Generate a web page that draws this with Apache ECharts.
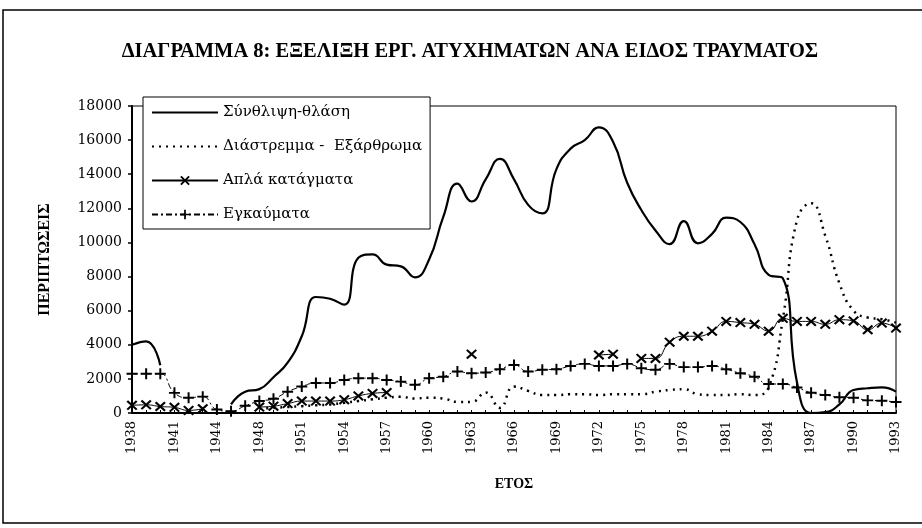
<!DOCTYPE html>
<html>
<head>
<meta charset="utf-8">
<title>ΔΙΑΓΡΑΜΜΑ 8</title>
<script src="https://cdn.jsdelivr.net/npm/echarts@6/dist/echarts.min.js"></script>
<style>
    html, body { margin: 0; padding: 0; background: #fff; }
    #chart { width: 922px; height: 528px; }
</style>
</head>
<body>
<div id="chart"></div>
<script>
'use strict';

// έτη (λείπει το 1945)
const years = ['1938', '1939', '1940', '1941', '1942', '1943', '1944', '1946', '1947',
    '1948', '1949', '1950', '1951', '1952', '1953', '1954', '1955', '1956', '1957',
    '1958', '1959', '1960', '1961', '1962', '1963', '1964', '1965', '1966', '1967',
    '1968', '1969', '1970', '1971', '1972', '1973', '1974', '1975', '1976', '1977',
    '1978', '1979', '1980', '1981', '1982', '1983', '1984', '1985', '1986', '1987',
    '1988', '1989', '1990', '1991', '1992', '1993'];

const seriesNames = ['Σύνθλιψη-θλάση', 'Διάστρεμμα -  Εξάρθρωμα', 'Απλά κατάγματα', 'Εγκαύματα'];

// Σύνθλιψη-θλάση
const crushData = [4000, 4200, 2800, null, null, null, null, 500, 1250,
    1400, 2100, 2950, 4500, 6800, 6700, 6350, 9100, 9300, 8700,
    8600, 7950, 9000, 11500, 13450, 12400, 13700, 14900, 13700, 12200,
    11700, 14300, 15500, 16000, 16750, 15900, 13500, 11900, 10700, 9900,
    11250, 9950, 10500, 11450, 11200, 9900, 8100, 7900, 1800, 0,
    50, 500, 1350, 1450, 1500, 1250];

// Διάστρεμμα - Εξάρθρωμα
const sprainData = [null, null, null, null, null, null, null, null, null,
    250, 300, 350, 400, 450, 500, 600, 700, 800, 900,
    950, 850, 900, 850, 650, 650, 1200, 300, 1550, 1300,
    1050, 1050, 1100, 1100, 1050, 1100, 1100, 1100, 1250, 1350,
    1400, 1100, 1050, 1050, 1100, 1050, 1500, 5500, 11300, 12300,
    10400, 7600, 6000, 5600, 5500, 5300];

// Απλά κατάγματα
const fractureData = [450, 480, 380, 330, 150, 250, null, null, null,
    350, 400, 550, 700, 700, 700, 780, 1000, 1150, 1200,
    null, null, null, null, null, 3450, null, null, null, null,
    null, null, null, null, 3400, 3450, null, 3200, 3200, 4150,
    4500, 4500, 4800, 5370, 5300, 5200, 4800, 5550, 5370, 5370,
    5200, 5470, 5400, 4880, 5270, 4980];

// Εγκαύματα
const burnData = [2300, 2300, 2300, 1180, 900, 960, 200, 100, 420,
    700, 830, 1250, 1550, 1760, 1760, 1940, 2040, 2040, 1940,
    1840, 1650, 2040, 2130, 2430, 2330, 2370, 2570, 2820, 2430,
    2530, 2570, 2760, 2880, 2760, 2760, 2880, 2630, 2530, 2880,
    2690, 2690, 2760, 2570, 2330, 2130, 1700, 1700, 1490, 1190,
    1060, 920, 900, 740, 720, 640];

const yTicks = { min: 0, max: 18000, interval: 2000 };

const SERIF = 'Liberation Serif';
const WIDE = 'DejaVu Serif';

// σύμβολα x και +
const crossX = 'path://M0,1.4L1.4,0L10,8.6L8.6,10ZM8.6,0L10,1.4L1.4,10L0,8.6Z';
const plus = 'path://M4.1,0H5.9V4.1H10V5.9H5.9V10H4.1V5.9H0V4.1H4.1Z';

window.addEventListener('load', () => {

    const box = document.getElementById('chart');
    let myChart = echarts.init(box, null, { renderer: 'canvas' });

    let option = {
        backgroundColor: '#fff',
        animation: false,
        title: {
            text: 'ΔΙΑΓΡΑΜΜΑ 8: ΕΞΕΛΙΞΗ ΕΡΓ. ΑΤΥΧΗΜΑΤΩΝ ΑΝΑ ΕΙΔΟΣ ΤΡΑΥΜΑΤΟΣ',
            left: 465,
            textAlign: 'center',
            top: 36,
            textStyle: { fontFamily: SERIF, fontWeight: 'bold', fontSize: 20.5, color: '#000' }
        },
        //εξωτερικό πλαίσιο
        graphic: [{
            type: 'rect',
            shape: { x: 3, y: 10, width: 960, height: 513 },
            style: { fill: 'none', stroke: '#000', lineWidth: 1.5 },
            silent: true
        }],
        grid: {
            left: 132, right: 26, top: 106, bottom: 115,
            show: true, borderColor: '#000', borderWidth: 1,
            backgroundColor: 'transparent'
        },
        legend: {
            orient: 'vertical',
            left: 143, top: 97,
            padding: [8, 8, 7, 8],
            itemWidth: 66, itemHeight: 12, itemGap: 19,
            backgroundColor: '#fff',
            borderColor: '#000', borderWidth: 1,
            textStyle: { fontFamily: WIDE, fontSize: 15, color: '#000' },
            data: seriesNames
        },
        xAxis: {
            type: 'category',
            data: years,
            boundaryGap: false,
            name: 'ΕΤΟΣ',
            nameLocation: 'middle',
            nameGap: 64,
            nameTextStyle: { fontFamily: SERIF, fontWeight: 'bold', fontSize: 14, color: '#000' },
            axisLine: { lineStyle: { color: '#000', width: 2 } },
            axisTick: { inside: true, length: 3, interval: 0, lineStyle: { color: '#000' } },
            axisLabel: {
                interval: 2, rotate: 90, margin: 8,
                fontFamily: WIDE, fontSize: 13, color: '#000'
            },
            splitLine: { show: false }
        },
        yAxis: {
            type: 'value',
            min: yTicks.min, max: yTicks.max, interval: yTicks.interval,
            name: 'ΠΕΡΙΠΤΩΣΕΙΣ',
            nameLocation: 'middle',
            nameRotate: 90,
            nameGap: 79,
            nameTextStyle: { fontFamily: SERIF, fontWeight: 'bold', fontSize: 16, color: '#000' },
            axisLine: { show: true, lineStyle: { color: '#000', width: 2 } },
            axisTick: { show: true, length: 4, lineStyle: { color: '#000', width: 1.5 } },
            axisLabel: {
                fontFamily: WIDE, fontSize: 14, color: '#000', margin: 10,
                formatter: (v) => String(v)
            },
            splitLine: { show: false }
        },
        series: [
            {
                name: seriesNames[0],
                type: 'line',
                data: crushData,
                smooth: true,
                symbol: 'rect',
                showSymbol: false,
                connectNulls: false,
                itemStyle: { color: 'rgba(0,0,0,0)' },
                lineStyle: { color: '#000', width: 2.2 },
                z: 4
            },
            {
                name: seriesNames[1],
                type: 'line',
                data: sprainData,
                smooth: true,
                symbol: 'rect',
                showSymbol: false,
                itemStyle: { color: 'rgba(0,0,0,0)' },
                lineStyle: { color: '#000', width: 2.5, type: [2, 5] },
                z: 3
            },
            {
                name: seriesNames[2],
                type: 'line',
                data: fractureData,
                smooth: true,
                symbol: crossX,
                symbolSize: [11, 10],
                showAllSymbol: true,
                itemStyle: { color: '#000' },
                lineStyle: { color: '#000', width: 1 },
                z: 5
            },
            {
                name: seriesNames[3],
                type: 'line',
                data: burnData,
                smooth: true,
                symbol: plus,
                symbolSize: 11,
                showAllSymbol: true,
                itemStyle: { color: '#000' },
                lineStyle: { color: '#000', width: 1, type: [6, 3, 2, 3] },
                z: 5
            }
        ]
    };

    myChart.setOption(option);
});
</script>
</body>
</html>
